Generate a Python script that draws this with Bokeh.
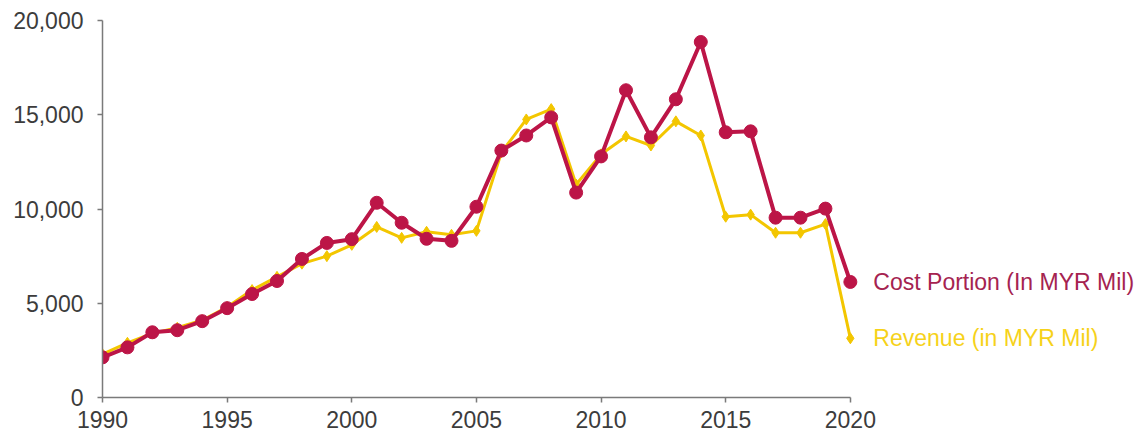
from bokeh.plotting import figure
from bokeh.models import Range1d, NumeralTickFormatter, FixedTicker, ColumnDataSource
from bokeh.core.properties import value
from bokeh.embed import file_html
from bokeh.resources import INLINE

years = list(range(1990, 2021))
cost = [2130, 2660, 3460, 3570, 4050, 4740, 5490, 6180, 7350, 8200,
        8400, 10330, 9270, 8420, 8310, 10120, 13100, 13900, 14860, 10870,
        12790, 16300, 13800, 15820, 18860, 14070, 14120, 9540, 9540, 10020,
        6130]
revenue = [2300, 2900, 3400, 3700, 4100, 4800, 5700, 6400, 7100, 7500,
           8100, 9050, 8470, 8790, 8630, 8840, 13000, 14750, 15300, 11300,
           12900, 13850, 13370, 14650, 13900, 9590, 9700, 8740, 8740, 9200,
           3140]
x_ticks = [1990, 1995, 2000, 2005, 2010, 2015, 2020]
y_ticks = [0, 5000, 10000, 15000, 20000]
labels = ["Cost Portion (In MYR Mil)", "Revenue (in MYR Mil)"]

RED = "#BC1547"
RED_TXT = "#A52350"
YEL = "#F3C600"
YEL_TXT = "#F6D21A"
FONT = "Liberation Sans"

p = figure(width=1147, height=439, output_backend="svg", toolbar_location=None,
           x_range=Range1d(1990, 2031.92), y_range=Range1d(0, 20000),
           min_border_left=102, min_border_right=0, min_border_top=20,
           min_border_bottom=42)
p.outline_line_color = None
p.xgrid.visible = False
p.ygrid.visible = False
p.background_fill_color = "white"
p.border_fill_color = "white"

for ax in (p.xaxis[0], p.yaxis[0]):
    ax.axis_line_color = "#7a7a7a"
    ax.axis_line_width = 1.5
    ax.major_tick_line_color = "#7a7a7a"
    ax.major_tick_line_width = 1.5
    ax.major_tick_in = 0
    ax.major_tick_out = 5
    ax.minor_tick_line_color = None
    ax.major_label_text_font = FONT
    ax.major_label_text_font_size = "23px"
    ax.major_label_text_color = "#3c3c3c"

p.xaxis.ticker = FixedTicker(ticks=x_ticks)
p.xaxis.bounds = (x_ticks[0], x_ticks[-1])
p.yaxis.ticker = FixedTicker(ticks=y_ticks)
p.yaxis.formatter = NumeralTickFormatter(format="0,0")
p.yaxis.major_label_standoff = 14
p.xaxis.major_label_standoff = 8

src = ColumnDataSource(dict(year=years, cost=cost, revenue=revenue))

p.line("year", "revenue", source=src, color=YEL, line_width=3)
p.scatter("year", "revenue", source=src, marker="diamond", size=11, color=YEL)
p.line("year", "cost", source=src, color=RED, line_width=4)
p.scatter("year", "cost", source=src, marker="circle", size=13, color=RED)

p.text(x=[years[-1]], y=[cost[-1]], text=[labels[0]], x_offset=23,
       text_baseline="middle", text_align="left", text_font=value(FONT),
       text_font_size="23px", text_color=RED_TXT)
p.text(x=[years[-1]], y=[revenue[-1]], text=[labels[1]], x_offset=23,
       text_baseline="middle", text_align="left", text_font=value(FONT),
       text_font_size="23px", text_color=YEL_TXT)

open("out.html", "w").write(file_html(p, INLINE))
